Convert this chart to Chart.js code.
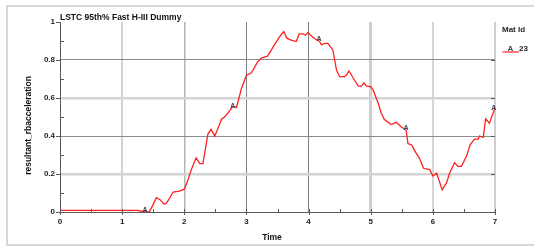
<!DOCTYPE html>
<html>
<head>
<meta charset="utf-8">
<script src="https://cdn.jsdelivr.net/npm/chart.js@4.4.1/dist/chart.umd.min.js"></script>
<style>
html,body{margin:0;padding:0;background:#fff;}
#wrap{position:relative;width:534px;height:246px;}
canvas{display:block;}
</style>
</head>
<body>
<div id="wrap"><canvas id="c" width="534" height="246"></canvas></div>
<script>
// ---- data ----
const chartTitle = "LSTC 95th% Fast H-III Dummy";
const xAxisTitle = "Time";
const yAxisTitle = "resultant_rbacceleration";
const legendTitle = "Mat Id";
const seriesMarker = "A";
const seriesName = "23";

const times = [0, 0.5, 1.0, 1.25, 1.32, 1.39, 1.44, 1.50, 1.55, 1.61, 1.67, 1.71, 1.76, 1.82, 1.92, 2.00, 2.05, 2.11, 2.19, 2.25, 2.30, 2.38, 2.43, 2.49, 2.53, 2.56, 2.60, 2.65, 2.70, 2.78, 2.84, 2.92, 3.00, 3.08, 3.18, 3.24, 3.34, 3.45, 3.53, 3.60, 3.65, 3.72, 3.80, 3.85, 3.91, 3.95, 3.99, 4.07, 4.13, 4.17, 4.21, 4.26, 4.31, 4.39, 4.45, 4.50, 4.58, 4.61, 4.65, 4.72, 4.80, 4.85, 4.89, 4.93, 5.00, 5.04, 5.12, 5.17, 5.22, 5.33, 5.41, 5.49, 5.57, 5.60, 5.66, 5.73, 5.78, 5.85, 5.95, 6.00, 6.06, 6.15, 6.22, 6.27, 6.35, 6.40, 6.46, 6.54, 6.60, 6.67, 6.73, 6.75, 6.81, 6.85, 6.91, 6.99, 7.00];
const accel = [0.009, 0.009, 0.009, 0.009, 0.004, 0.0, 0.002, 0.04, 0.075, 0.065, 0.042, 0.045, 0.07, 0.105, 0.11, 0.12, 0.16, 0.22, 0.285, 0.255, 0.255, 0.41, 0.435, 0.40, 0.43, 0.455, 0.49, 0.50, 0.52, 0.555, 0.55, 0.65, 0.72, 0.733, 0.79, 0.81, 0.82, 0.88, 0.92, 0.95, 0.915, 0.905, 0.897, 0.937, 0.937, 0.93, 0.944, 0.92, 0.905, 0.90, 0.88, 0.888, 0.888, 0.853, 0.747, 0.712, 0.712, 0.72, 0.742, 0.704, 0.663, 0.663, 0.68, 0.663, 0.66, 0.642, 0.572, 0.52, 0.487, 0.46, 0.472, 0.449, 0.43, 0.36, 0.352, 0.31, 0.285, 0.23, 0.223, 0.19, 0.205, 0.117, 0.153, 0.205, 0.26, 0.24, 0.24, 0.293, 0.354, 0.384, 0.384, 0.40, 0.393, 0.49, 0.467, 0.54, 0.555];

const markerTimes = [1.37, 2.78, 4.17, 5.57, 6.98];
const markerValues = [0.004, 0.555, 0.905, 0.435, 0.54];

const xTickValues = [0, 1, 2, 3, 4, 5, 6, 7];
const xTickLabels = ["0", "1", "2", "3", "4", "5", "6", "7"];
const yTickValues = [0, 0.2, 0.4, 0.6, 0.8, 1];
const yTickLabels = ["0", "0.2", "0.4", "0.6", "0.8", "1"];
const xMinorTicks = [0.5, 1.5, 2.5, 3.5, 4.5, 5.5, 6.5];
const yMinorTicks = [0.1, 0.3, 0.5, 0.7, 0.9];

// ---- styles ----
const FONT = "'Liberation Sans', Arial, sans-serif";
const AXIS_COL = "#5a5a5a";
const vGridStyle = {0:["#5a5a5a",1],1:["#d2d2d2",2],2:["#b4b4b4",1.5],3:["#808080",1],4:["#808080",1],5:["#cfcfcf",3],6:["#d6d6d6",2],7:["#cfcfcf",2]};
const hGridStyle = {0:["#5a5a5a",1],2:["#d4d4d4",2.5],4:["#8a8a8a",1],6:["#d4d4d4",2.5],8:["#8a8a8a",1],10:["rgba(0,0,0,0)",0]};

const points = times.map((t, i) => ({x: t, y: accel[i]}));

const decorPlugin = {
  id: 'decor',
  beforeDraw(chart) {
    const ctx = chart.ctx;
    ctx.save();
    ctx.strokeStyle = "#cccccc";
    ctx.lineWidth = 1.5;
    ctx.strokeRect(7, 6, 560, 239);
    ctx.restore();
  },
  afterDraw(chart) {
    const ctx = chart.ctx;
    const xs = chart.scales.x, ys = chart.scales.y;
    const a = chart.chartArea;
    ctx.save();
    // axes
    ctx.strokeStyle = AXIS_COL;
    ctx.lineWidth = 1;
    ctx.beginPath();
    ctx.moveTo(a.left + 0.5, a.top); ctx.lineTo(a.left + 0.5, a.bottom + 0.5);
    ctx.lineTo(a.right, a.bottom + 0.5);
    ctx.stroke();
    // y ticks
    ctx.beginPath();
    yTickValues.forEach(v => {
      const y = Math.round(ys.getPixelForValue(v)) + 0.5;
      ctx.moveTo(a.left - 4, y); ctx.lineTo(a.left, y);
      if (v > 0 && v < 1) { ctx.moveTo(a.right - 4, y); ctx.lineTo(a.right, y); }
    });
    yMinorTicks.forEach(v => {
      const y = Math.round(ys.getPixelForValue(v)) + 0.5;
      ctx.moveTo(a.left, y); ctx.lineTo(a.left + 4, y);
    });
    xTickValues.forEach(v => {
      const x = Math.round(xs.getPixelForValue(v)) + 0.5;
      ctx.moveTo(x, a.bottom - 3); ctx.lineTo(x, a.bottom + 3);
    });
    xMinorTicks.forEach(v => {
      const x = Math.round(xs.getPixelForValue(v)) + 0.5;
      ctx.moveTo(x, a.bottom - 3); ctx.lineTo(x, a.bottom);
    });
    ctx.stroke();

    // markers on the curve
    ctx.fillStyle = "#3a4656";
    ctx.font = "bold 7px " + FONT;
    ctx.textAlign = "center";
    ctx.textBaseline = "alphabetic";
    markerTimes.forEach((t, i) => {
      const x = xs.getPixelForValue(t), y = ys.getPixelForValue(markerValues[i]);
      ctx.fillText(seriesMarker, x, y + 1);
    });

    // title
    ctx.fillStyle = "#111";
    ctx.font = "bold 8.5px " + FONT;
    ctx.textAlign = "left";
    ctx.textBaseline = "alphabetic";
    ctx.fillText(chartTitle, a.left, 19.5);

    // x axis title
    ctx.font = "bold 8.5px " + FONT;
    ctx.textAlign = "center";
    ctx.textBaseline = "middle";
    ctx.fillText(xAxisTitle, 272, 237.5);

    // y axis title
    ctx.save();
    ctx.translate(29, 125.5);
    ctx.rotate(-Math.PI / 2);
    ctx.fillText(yAxisTitle, 0, 0);
    ctx.restore();

    // legend
    ctx.textAlign = "left";
    ctx.textBaseline = "alphabetic";
    ctx.font = "bold 8px " + FONT;
    ctx.fillStyle = "#222";
    ctx.fillText(legendTitle, 502, 32);
    ctx.strokeStyle = "#ff2020";
    ctx.lineWidth = 1.2;
    ctx.beginPath(); ctx.moveTo(502.5, 52); ctx.lineTo(519, 52); ctx.stroke();
    ctx.fillStyle = "#3a4656";
    ctx.textAlign = "center";
    ctx.fillText(seriesMarker, 510.5, 51);
    ctx.fillStyle = "#222";
    ctx.textAlign = "left";
    ctx.fillText(seriesName, 519, 51);
    ctx.restore();
  }
};

new Chart(document.getElementById('c'), {
  type: 'scatter',
  data: {
    datasets: [{
      data: points,
      showLine: true,
      borderColor: '#ff2020',
      borderWidth: 1.3,
      pointRadius: 0,
      tension: 0,
      fill: false
    }]
  },
  options: {
    responsive: false,
    animation: false,
    events: [],
    layout: { padding: { left: 0, right: 39, top: 22, bottom: 0 } },
    plugins: { legend: { display: false }, tooltip: { enabled: false }, title: { display: false } },
    scales: {
      x: {
        type: 'linear', min: 0, max: 7,
        afterFit(s) { s.height = 34; },
        afterBuildTicks(s) { s.ticks = xTickValues.map(v => ({value: v})); },
        ticks: {
          padding: 5,
          font: { family: FONT, size: 8, weight: 'bold' },
          color: '#222',
          maxRotation: 0,
          callback: (v) => { const i = xTickValues.indexOf(v); return i >= 0 ? xTickLabels[i] : ''; }
        },
        grid: {
          drawTicks: false,
          color: (c) => (vGridStyle[Math.round(c.tick ? c.tick.value : 0)] || ["#ccc",1])[0],
          lineWidth: (c) => (vGridStyle[Math.round(c.tick ? c.tick.value : 0)] || ["#ccc",1])[1]
        },
        border: { display: false }
      },
      y: {
        type: 'linear', min: 0, max: 1,
        afterFit(s) { s.width = 60; },
        afterBuildTicks(s) { s.ticks = yTickValues.map(v => ({value: v})); },
        ticks: {
          padding: 5,
          font: { family: FONT, size: 8, weight: 'bold' },
          color: '#222',
          callback: (v) => { const i = yTickValues.findIndex(t => Math.abs(t - v) < 1e-6); return i >= 0 ? yTickLabels[i] : ''; }
        },
        grid: {
          drawTicks: false,
          color: (c) => (hGridStyle[Math.round((c.tick ? c.tick.value : 0) * 10)] || ["#ccc",1])[0],
          lineWidth: (c) => (hGridStyle[Math.round((c.tick ? c.tick.value : 0) * 10)] || ["#ccc",1])[1]
        },
        border: { display: false }
      }
    }
  },
  plugins: [decorPlugin]
});
</script>
</body>
</html>
